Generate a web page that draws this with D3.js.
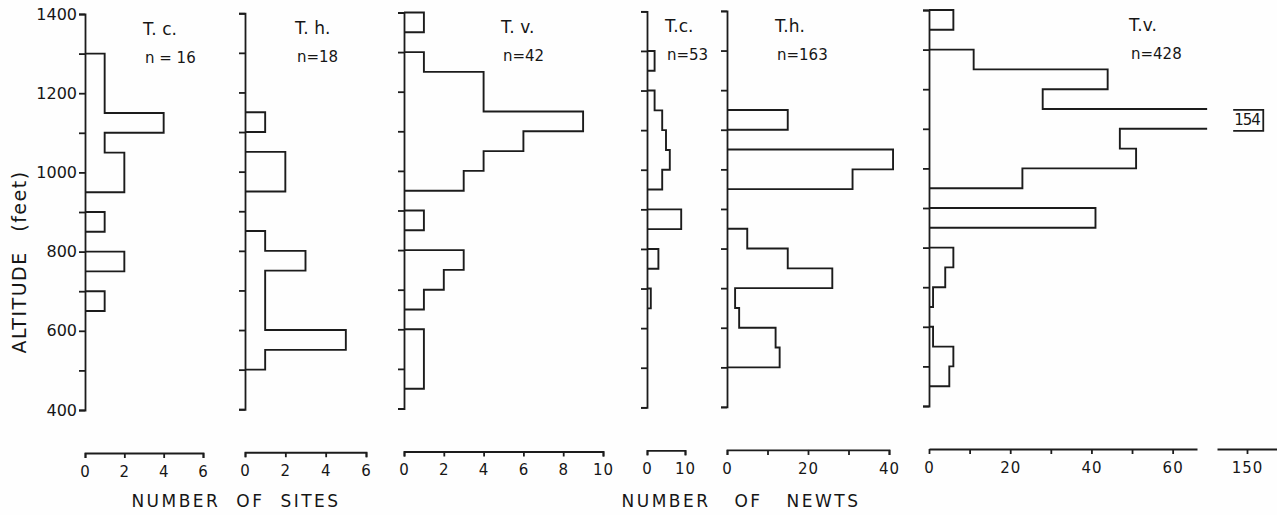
<!DOCTYPE html>
<html>
<head>
<meta charset="utf-8">
<script src="https://cdnjs.cloudflare.com/ajax/libs/d3/7.8.5/d3.min.js"></script>
<style>
  body { margin: 0; background: #fefefe; }
  svg text { font-family: "DejaVu Sans", sans-serif; fill: #161616; }
  .axis path, .axis line { stroke: #1c1c1c; stroke-width: 1.8; }
  .axis text { font-size: 15px; }
  .hist { fill: none; stroke: #1c1c1c; stroke-width: 1.9; }
</style>
</head>
<body>
<div id="chart"></div>
<script>
// altitude bins, lower edge in feet (each bin 50 ft wide)
var binStarts = [450, 500, 550, 600, 650, 700, 750, 800, 850, 900, 950, 1000, 1050, 1100, 1150, 1200, 1250, 1300, 1350];
var binWidth = 50;

// number of sites, per bin (low -> high altitude)
var tcSites = [0, 0, 0, 0, 1, 0, 2, 0, 1, 0, 2, 2, 1, 4, 1, 1, 1, 0, 0];
var thSites = [0, 1, 5, 1, 1, 1, 3, 1, 0, 0, 2, 2, 0, 1, 0, 0, 0, 0, 0];
var tvSites = [1, 1, 1, 0, 1, 2, 3, 0, 1, 0, 3, 4, 6, 9, 4, 4, 1, 0, 1];

// number of newts, per bin
var tcNewts = [0, 0, 0, 0, 1, 0, 3, 0, 9, 0, 4, 6, 5, 4, 2, 0, 2, 0, 0];
var thNewts = [0, 13, 12, 3, 2, 26, 15, 5, 0, 0, 31, 41, 0, 15, 0, 0, 0, 0, 0];
var tvNewts = [5, 6, 1, 0, 1, 4, 6, 0, 41, 0, 23, 51, 47, 154, 28, 44, 11, 0, 6];

var species = ["T. c.", "T. h.", "T. v.", "T.c.", "T.h.", "T.v."];
var nLabels = ["n = 16", "n=18", "n=42", "n=53", "n=163", "n=428"];

var altTicks = [400, 500, 600, 700, 800, 900, 1000, 1100, 1200, 1300, 1400];
var altLabels = [400, 600, 800, 1000, 1200, 1400];

var xTicks = [[0, 2, 4, 6], [0, 2, 4, 6], [0, 2, 4, 6, 8, 10], [0, 10], [0, 10, 20, 30, 40], [0, 10, 20, 30, 40, 50, 60]];
var xLabels = [[0, 2, 4, 6], [0, 2, 4, 6], [0, 2, 4, 6, 8, 10], [0, 10], [0, 20, 40], [0, 20, 40, 60]];
var xMax = [6, 6, 10, 10, 40, 66];

var series = [tcSites, thSites, tvSites, tcNewts, thNewts, tvNewts];

// layout: left edge (zero) and right edge of each panel's value axis, title offset
var panelX0 = [85, 245, 404, 647, 727, 929];
var panelX1 = [203, 366, 603, 685, 889, 1197];
var titleDx = [58, 50, 97, 18, 48, 200];
var brokenValue = 68.5;   // where the T.v. newt bar is cut
var breakTick = 150;

var W = 1277, H = 515;
var svg = d3.select("#chart").append("svg")
    .attr("width", W)
    .attr("height", H);

var y = d3.scaleLinear().domain([400, 1400]).range([410, 14]);
var axisY = 453;

function stepPath(vals, x, cap) {
  var d = "", open = false;
  for (var i = vals.length - 1; i >= 0; i--) {
    var top = y(binStarts[i] + binWidth), bot = y(binStarts[i]);
    if (vals[i] > 0) {
      if (!open) { d += "M" + x(0) + "," + top; open = true; }
      if (cap != null && vals[i] > cap) {
        d += "H" + x(cap) + "M" + x(cap) + "," + bot;
      } else {
        d += "H" + x(vals[i]) + "V" + bot;
      }
    } else if (open) {
      d += "H" + x(0);
      open = false;
    }
  }
  if (open) d += "H" + x(0);
  return d;
}

series.forEach(function(vals, p) {
  // scanned figure is slightly tilted: right side sits a little higher
  var tilt = -4 * (panelX0[p] - panelX0[0]) / (panelX0[5] - panelX0[0]);
  var g = svg.append("g").attr("transform", "translate(0," + tilt + ")");

  var x = d3.scaleLinear().domain([0, xMax[p]]).range([panelX0[p], panelX1[p]]);

  // vertical altitude axis
  var yAxis = d3.axisLeft(y)
      .tickValues(altTicks)
      .tickSize(6)
      .tickSizeOuter(6)
      .tickPadding(2)
      .tickFormat(function(d) {
        return (p === 0 && altLabels.indexOf(d) >= 0) ? d : "";
      });
  g.append("g")
      .attr("class", "axis")
      .attr("transform", "translate(" + x(0) + ",0)")
      .call(yAxis)
      .selectAll("text").style("font-size", "16px");

  // histogram outline
  g.append("path")
      .attr("class", "hist")
      .attr("d", stepPath(vals, x, p === 5 ? brokenValue : null));

  // value axis at the bottom
  var xAxis = d3.axisBottom(x)
      .tickValues(xTicks[p])
      .tickSize(5)
      .tickSizeOuter(p === 5 ? 0 : 5)
      .tickPadding(8)
      .tickFormat(function(d) { return xLabels[p].indexOf(d) >= 0 ? d : ""; });
  g.append("g")
      .attr("class", "axis")
      .attr("transform", "translate(0," + axisY + ")")
      .call(xAxis)
      .selectAll("text").style("font-size", "15px").attr("letter-spacing", "1px");

  // species + sample size
  g.append("text")
      .attr("x", panelX0[p] + titleDx[p])
      .attr("y", 35)
      .style("font-size", "17px")
      .text(species[p]);
  g.append("text")
      .attr("x", panelX0[p] + titleDx[p] + 2)
      .attr("y", 63)
      .style("font-size", "15px")
      .text(nLabels[p]);

  if (p === 5) {
    // broken part of the axis, carrying the 150 tick
    var x2 = d3.scaleLinear().domain([breakTick - 7.5, breakTick + 7.5]).range([1217, 1277]);
    g.append("g")
        .attr("class", "axis")
        .attr("transform", "translate(0," + axisY + ")")
        .call(d3.axisBottom(x2).tickValues([breakTick]).tickSize(5).tickSizeOuter(0).tickPadding(8))
        .selectAll("text").style("font-size", "15px").attr("letter-spacing", "1px");

    // boxed value for the cut bar
    var iBig = vals.indexOf(d3.max(vals));
    var cy = y(binStarts[iBig] + binWidth / 2);
    var lbl = g.append("text")
        .attr("x", x2(breakTick))
        .attr("y", cy + 6)
        .attr("text-anchor", "middle")
        .style("font-size", "15px")
        .attr("letter-spacing", "-1px")
        .text(vals[iBig]);
    var bb = lbl.node().getBBox();
    g.append("path")
        .attr("fill", "none")
        .attr("stroke", "#1c1c1c")
        .attr("stroke-width", 1.8)
        .attr("d", "M" + (bb.x - 1) + "," + (bb.y - 1) + "H" + (bb.x + bb.width + 3) +
                   "V" + (bb.y + bb.height + 2) + "H" + (bb.x - 1));
  }
});

// axis titles
svg.append("text")
    .attr("transform", "translate(26,262) rotate(-90)")
    .attr("text-anchor", "middle")
    .style("font-size", "19px")
    .attr("letter-spacing", "1.5px")
    .attr("word-spacing", "12px")
    .text("ALTITUDE (feet)");

svg.append("text")
    .attr("x", 236)
    .attr("y", 507)
    .attr("text-anchor", "middle")
    .style("font-size", "17px")
    .attr("letter-spacing", "2.5px")
    .attr("word-spacing", "8px")
    .text("NUMBER OF SITES");

svg.append("text")
    .attr("x", 741)
    .attr("y", 507)
    .attr("text-anchor", "middle")
    .style("font-size", "17px")
    .attr("letter-spacing", "2.5px")
    .attr("word-spacing", "16px")
    .text("NUMBER OF NEWTS");
</script>
</body>
</html>
